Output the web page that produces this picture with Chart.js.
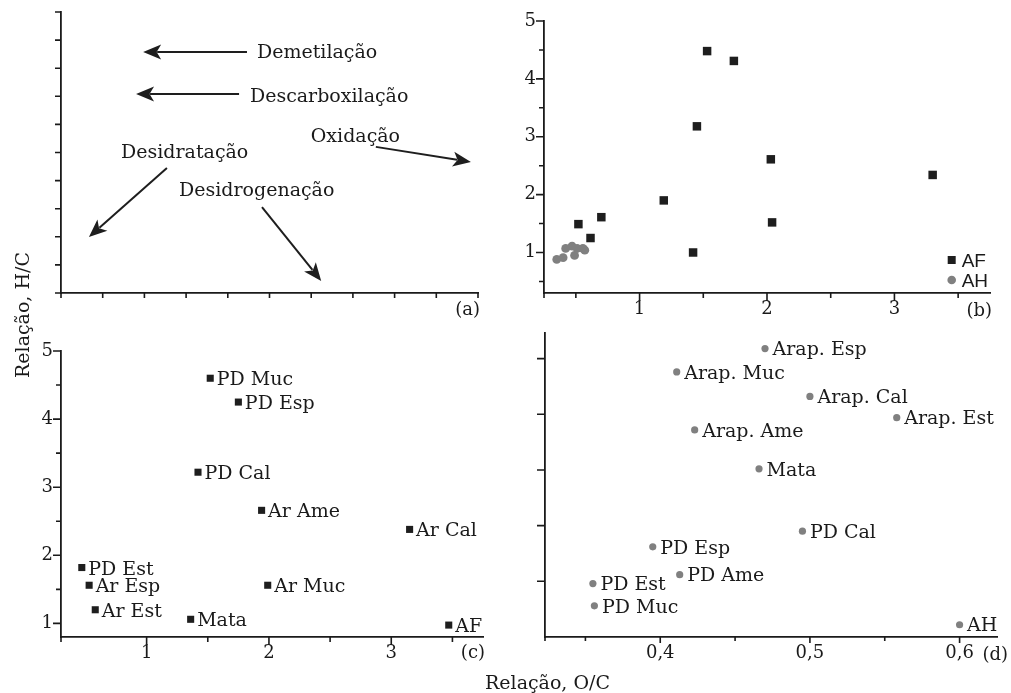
<!DOCTYPE html>
<html lang="pt">
<head>
<meta charset="utf-8">
<script src="https://cdn.jsdelivr.net/npm/chart.js@4.4.1/dist/chart.umd.min.js"></script>
<style>
  body { margin: 0; background: #fff; }
  #fig { position: relative; width: 1011px; height: 693px; overflow: hidden; color: #1a1a1a; font-family: "DejaVu Serif", serif; }
  #fig canvas { position: absolute; }
  .titulo { position: absolute; font-size: 19px; line-height: 22px; white-space: nowrap; }
  #tituloY { left: 11px; top: 378px; transform-origin: left top; transform: rotate(-90deg); }
  #tituloX { left: 485px; top: 671px; }
</style>
</head>
<body>
<div id="fig">
  <canvas id="graficoA" width="500" height="330" style="left:0;top:0"></canvas>
  <canvas id="graficoB" width="511" height="330" style="left:500px;top:0"></canvas>
  <canvas id="graficoC" width="520" height="373" style="left:0;top:320px"></canvas>
  <canvas id="graficoD" width="491" height="373" style="left:520px;top:320px"></canvas>
  <div class="titulo" id="tituloY">Relação, H/C</div>
  <div class="titulo" id="tituloX">Relação, O/C</div>
</div>
<script>
const tinta = '#1a1a1a';
const preto = '#1e1e1e';
const cinza = '#808080';

// (a) processos e setas (unidades do esquema, 0-10)
const processos = ['Demetilação', 'Descarboxilação', 'Oxidação', 'Desidratação', 'Desidrogenação'];
const textoX = [4.70, 4.53, 5.99, 1.44, 2.83];
const textoY = [8.37, 6.78, 5.38, 4.79, 3.45];
const setaIniX = [4.46, 4.27, 7.55, 2.54, 4.82];
const setaIniY = [8.58, 7.08, 5.20, 4.45, 3.06];
const setaFimX = [1.97, 1.80, 9.83, 0.67, 6.24];
const setaFimY = [8.58, 7.08, 4.66, 1.99, 0.43];
const ticksA = [0, 1, 2, 3, 4, 5, 6, 7, 8, 9, 10];

// (b) AF e AH
const afOC = [0.52, 0.615, 0.70, 1.19, 1.42, 1.45, 1.53, 1.74, 2.03, 2.04, 3.30];
const afHC = [1.49, 1.25, 1.61, 1.90, 1.00, 3.18, 4.48, 4.31, 2.61, 1.52, 2.34];
const ahOCb = [0.35, 0.40, 0.42, 0.47, 0.49, 0.51, 0.555, 0.57];
const ahHCb = [0.88, 0.91, 1.07, 1.11, 0.95, 1.07, 1.07, 1.04];

// (c) AF por amostra
const amostrasAF = ['PD Muc', 'PD Esp', 'PD Cal', 'Ar Ame', 'Ar Cal', 'PD Est', 'Ar Esp', 'Ar Muc', 'Ar Est', 'Mata', 'AF'];
const cOC = [1.52, 1.75, 1.42, 1.94, 3.15, 0.47, 0.53, 1.99, 0.58, 1.36, 3.47];
const cHC = [4.60, 4.25, 3.22, 2.66, 2.38, 1.82, 1.56, 1.56, 1.20, 1.06, 0.975];

// (d) AH por amostra
const amostrasAH = ['Arap. Esp', 'Arap. Muc', 'Arap. Cal', 'Arap. Est', 'Arap. Ame', 'Mata', 'PD Cal', 'PD Esp', 'PD Ame', 'PD Est', 'PD Muc', 'AH'];
const ahOC = [0.470, 0.411, 0.500, 0.558, 0.423, 0.466, 0.495, 0.395, 0.413, 0.355, 0.356, 0.600];
const ahHC = [1.109, 1.088, 1.066, 1.047, 1.036, 1.001, 0.945, 0.931, 0.906, 0.898, 0.878, 0.861];

const ticksInt = [1, 2, 3, 4, 5];
const ticksMeioB = [0.5, 1.5, 2.5, 3.5, 4.5];
const ticksMeioC = [1.5, 2.5, 3.5, 4.5];
const ticksDX = [0.4, 0.5, 0.6];
const ticksDXmenor = [0.35, 0.45, 0.55];
const ticksDY = [0.9, 0.95, 1.0, 1.05, 1.1];

const pontos = (xs, ys) => xs.map((v, i) => ({ x: v, y: ys[i] }));
const inteiro = v => String(v);
const decimal = v => v.toFixed(1).replace('.', ',');

function eixo(min, max, valores, tamanho, formato, pad) {
    return {
        type: 'linear', min: min, max: max,
        afterBuildTicks: s => { s.ticks = valores.map(v => ({ value: v })); },
        afterFit: s => { if (s.isHorizontal()) s.height = tamanho; else s.width = tamanho; },
        ticks: { display: !!formato, callback: formato || (() => ''), padding: pad || 8, color: tinta,
                 font: { family: 'DejaVu Serif', size: 18 }, autoSkip: false, maxRotation: 0 },
        grid: { display: false, drawTicks: false },
        border: { color: tinta, width: 1.8 }
    };
}

function opcoes(padding, sx, sy) {
    return {
        responsive: false, animation: false, events: [],
        layout: { padding: padding },
        plugins: { legend: { display: false }, tooltip: { enabled: false } },
        scales: { x: sx, y: sy }
    };
}

function tracos(ctx, escala, valores, comp) {
    ctx.save();
    ctx.strokeStyle = tinta;
    ctx.lineWidth = 1.6;
    ctx.beginPath();
    valores.forEach(v => {
        const p = escala.getPixelForValue(v);
        if (escala.isHorizontal()) { ctx.moveTo(p, escala.top); ctx.lineTo(p, escala.top + comp); }
        else { ctx.moveTo(escala.right, p); ctx.lineTo(escala.right - comp, p); }
    });
    ctx.stroke();
    ctx.restore();
}

function rotulos(chart, nomes, xs, ys, dx, dy) {
    const ctx = chart.ctx, sx = chart.scales.x, sy = chart.scales.y;
    ctx.save();
    ctx.fillStyle = tinta;
    ctx.font = '19px "DejaVu Serif"';
    ctx.textAlign = 'left';
    ctx.textBaseline = 'alphabetic';
    nomes.forEach((n, i) => ctx.fillText(n, sx.getPixelForValue(xs[i]) + dx, sy.getPixelForValue(ys[i]) + dy));
    ctx.restore();
}

function letra(chart, txt, dx, dy) {
    const ctx = chart.ctx, a = chart.chartArea;
    ctx.save();
    ctx.fillStyle = tinta;
    ctx.font = '18px "DejaVu Serif"';
    ctx.textAlign = 'right';
    ctx.textBaseline = 'alphabetic';
    ctx.fillText(txt, a.right + dx, a.bottom + dy);
    ctx.restore();
}

function seta(ctx, x0, y0, x1, y1) {
    const ang = Math.atan2(y1 - y0, x1 - x0), L = 18, W = 7.5;
    const c = Math.cos(ang), s = Math.sin(ang);
    const bx = x1 - L * c, by = y1 - L * s;
    ctx.beginPath();
    ctx.moveTo(x0, y0);
    ctx.lineTo(x1 - (L - 4) * c, y1 - (L - 4) * s);
    ctx.stroke();
    ctx.beginPath();
    ctx.moveTo(x1, y1);
    ctx.lineTo(bx - W * s, by + W * c);
    ctx.lineTo(x1 - 0.75 * L * c, y1 - 0.75 * L * s);
    ctx.lineTo(bx + W * s, by - W * c);
    ctx.closePath();
    ctx.fill();
}

// (a)
new Chart(document.getElementById('graficoA'), {
    type: 'scatter',
    data: { datasets: [{ data: [] }] },
    options: opcoes({ left: 0, top: 12, right: 22, bottom: 0 },
        eixo(0, 10, ticksA, 37, null), eixo(0, 10, ticksA, 61, null)),
    plugins: [{
        id: 'esquema',
        afterDraw(chart) {
            const ctx = chart.ctx, sx = chart.scales.x, sy = chart.scales.y;
            tracos(ctx, sx, ticksA, 5);
            tracos(ctx, sy, ticksA, 6);
            ctx.save();
            ctx.strokeStyle = preto;
            ctx.fillStyle = preto;
            ctx.lineWidth = 2;
            processos.forEach((p, i) => {
                seta(ctx, sx.getPixelForValue(setaIniX[i]), sy.getPixelForValue(setaIniY[i]),
                    sx.getPixelForValue(setaFimX[i]), sy.getPixelForValue(setaFimY[i]));
            });
            ctx.fillStyle = tinta;
            ctx.font = '19px "DejaVu Serif"';
            ctx.textBaseline = 'alphabetic';
            processos.forEach((p, i) => ctx.fillText(p, sx.getPixelForValue(textoX[i]), sy.getPixelForValue(textoY[i])));
            ctx.restore();
            letra(chart, '(a)', 2, 22);
        }
    }]
});

// (b)
new Chart(document.getElementById('graficoB'), {
    type: 'scatter',
    data: { datasets: [
        { label: 'AF', data: pontos(afOC, afHC), pointStyle: 'rect', pointRadius: 6, pointHoverRadius: 6,
          backgroundColor: preto, borderWidth: 0, clip: false },
        { label: 'AH', data: pontos(ahOCb, ahHCb), pointStyle: 'circle', pointRadius: 4.4, pointHoverRadius: 4.4,
          backgroundColor: cinza, borderWidth: 0, clip: false }
    ] },
    options: opcoes({ left: 0, top: 21, right: 21, bottom: 0 },
        eixo(0.25, 3.75, [1, 2, 3], 37, inteiro, 6), eixo(0.3, 5, ticksInt, 44, inteiro, 8)),
    plugins: [{
        id: 'extrasB',
        afterDatasetsDraw(chart) {
            const ctx = chart.ctx, a = chart.chartArea;
            tracos(ctx, chart.scales.x, [1, 2, 3], 8);
            tracos(ctx, chart.scales.x, [0.25, 0.5, 1.5, 2.5, 3.5], 5);
            tracos(ctx, chart.scales.y, ticksInt, 8);
            tracos(ctx, chart.scales.y, ticksMeioB, 5);
            ctx.save();
            ctx.fillStyle = preto;
            ctx.fillRect(a.right - 38.3 - 4, a.bottom - 33 - 4, 8, 8);
            ctx.fillStyle = cinza;
            ctx.beginPath();
            ctx.arc(a.right - 38.3, a.bottom - 13, 4.3, 0, Math.PI * 2);
            ctx.fill();
            ctx.fillStyle = tinta;
            ctx.font = '19px "Liberation Sans"';
            ctx.fillText('AF', a.right - 28.3, a.bottom - 26.3);
            ctx.fillText('AH', a.right - 28.3, a.bottom - 6.3);
            ctx.restore();
            letra(chart, '(b)', 2, 23);
        }
    }]
});

// (c)
new Chart(document.getElementById('graficoC'), {
    type: 'scatter',
    data: { datasets: [{ data: pontos(cOC, cHC), pointStyle: 'rect', pointRadius: 5, pointHoverRadius: 5,
        backgroundColor: preto, borderWidth: 0, clip: false }] },
    options: opcoes({ left: 0, top: 31, right: 37, bottom: 0 },
        eixo(0.3, 3.75, [1, 2, 3], 56, inteiro, 6), eixo(0.8, 5, ticksInt, 61, inteiro, 8)),
    plugins: [{
        id: 'extrasC',
        afterDatasetsDraw(chart) {
            tracos(chart.ctx, chart.scales.x, [1, 2, 3], 8);
            tracos(chart.ctx, chart.scales.x, [0.3, 1.5, 2.5, 3.5], 5);
            tracos(chart.ctx, chart.scales.y, ticksInt, 8);
            tracos(chart.ctx, chart.scales.y, ticksMeioC, 5);
            rotulos(chart, amostrasAF, cOC, cHC, 6.5, 7);
            letra(chart, '(c)', 2, 21);
        }
    }]
});

// (d)
new Chart(document.getElementById('graficoD'), {
    type: 'scatter',
    data: { datasets: [{ data: pontos(ahOC, ahHC), pointStyle: 'circle', pointRadius: 3.6, pointHoverRadius: 3.6,
        backgroundColor: cinza, borderWidth: 0, clip: false }] },
    options: opcoes({ left: 0, top: 13, right: 14, bottom: 0 },
        eixo(0.323, 0.625, ticksDX, 56, decimal, 6), eixo(0.85, 1.123, ticksDY, 25, null)),
    plugins: [{
        id: 'extrasD',
        afterDatasetsDraw(chart) {
            tracos(chart.ctx, chart.scales.x, ticksDX, 6);
            tracos(chart.ctx, chart.scales.x, [0.323].concat(ticksDXmenor), 4);
            tracos(chart.ctx, chart.scales.y, ticksDY, 8);
            rotulos(chart, amostrasAH, ahOC, ahHC, 7.5, 6.7);
            letra(chart, '(d)', 11, 22.5);
        }
    }]
});
</script>
</body>
</html>
